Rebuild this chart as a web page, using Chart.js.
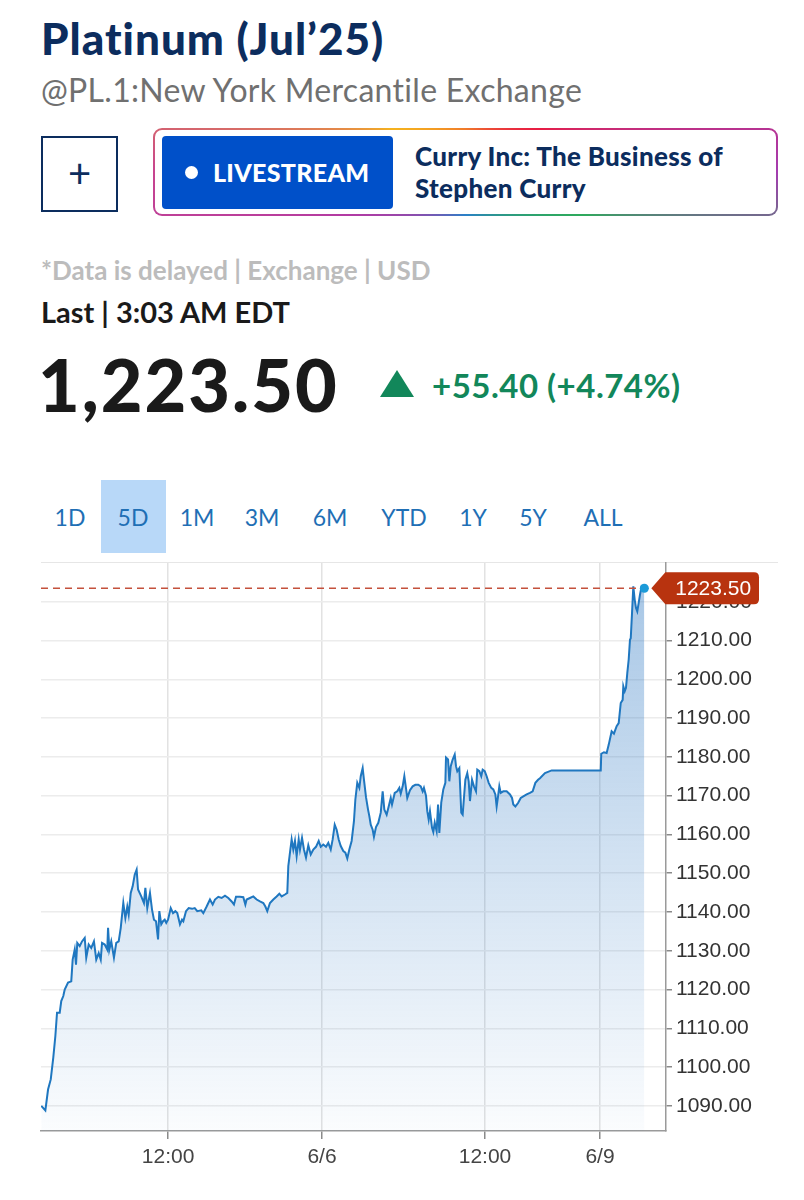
<!DOCTYPE html>
<html>
<head>
<meta charset="utf-8">
<script src="https://cdn.jsdelivr.net/npm/chart.js@4.4.0/dist/chart.umd.min.js"></script>
<style>
  body { margin: 0; width: 804px; height: 1200px; background: #fff; position: relative; overflow: hidden;
         font-family: Lato, "Open Sans", sans-serif; }
  .abs { position: absolute; white-space: nowrap; }
  #title { left: 41px; top: 12px; font-size: 44px; line-height: 52px; font-weight: 900; color: #0c2d5e; letter-spacing: 1px; }
  #sub { left: 41px; top: 70px; font-size: 32px; line-height: 40px; color: #707070; letter-spacing: 0.3px; }
  #plus { left: 41px; top: 136px; width: 73px; height: 72px; border: 2px solid #0c2d5e; color: #0c2d5e;
          font-size: 40px; line-height: 70px; text-align: center; }
  #frame { left: 153px; top: 128px; width: 625px; height: 88px; border-radius: 9px;
           background: conic-gradient(from 0deg, #f07a2a 0deg, #e81c43 60deg, #a43cb0 90deg, #2eaa5c 110deg,
                       #2a80c8 180deg, #b23aa3 250deg, #c7448f 270deg, #f5b21e 300deg, #f07a2a 360deg); }
  #frameIn { left: 2px; top: 2px; right: 2px; bottom: 2px; background: #fff; border-radius: 7px; }
  #live { left: 162px; top: 136px; width: 231px; height: 73px; background: #0050c9; border-radius: 4px; color: #fff;
          font-size: 25px; font-weight: 900; line-height: 73px; }
  #live .dot { position: absolute; left: 23px; top: 30px; width: 13px; height: 13px; border-radius: 50%; background: #fff; }
  #live .txt { position: absolute; left: 51px; top: 0; letter-spacing: 0.3px; }
  #story { left: 415px; top: 140px; font-size: 26px; line-height: 32px; font-weight: 900; color: #0c2d5e; letter-spacing: 0.3px; }
  #delay { left: 41px; top: 254px; font-size: 26px; line-height: 32px; font-weight: 700; color: #bcbcbc; }
  #last { left: 41px; top: 295px; font-size: 29px; line-height: 34px; font-weight: 700; color: #1a1a1a; }
  #price { left: 38px; top: 343px; font-size: 72px; line-height: 82px; font-weight: 900; color: #1a1a1a; letter-spacing: 2px; }
  #tri { left: 380px; top: 370px; width: 0; height: 0; border-left: 17px solid transparent;
         border-right: 17px solid transparent; border-bottom: 27px solid #12875a; }
  #chg { left: 432px; top: 365px; font-size: 33px; line-height: 40px; font-weight: 700; color: #12875a; letter-spacing: 0.5px; }
  #tabsel { left: 101px; top: 480px; width: 65px; height: 73px; background: #b8d8f8; }
  .tab { top: 502px; font-size: 23px; line-height: 30px; color: #1f6fb5; transform: translateX(-50%); }
  #topline { left: 41px; top: 562px; width: 737px; height: 1px; background: #e6e6e6; }
  #wrap { left: 0; top: 540px; width: 804px; height: 640px; }
</style>
</head>
<body>
<div class="abs" id="title">Platinum (Jul’25)</div>
<div class="abs" id="sub">@PL.1:New York Mercantile Exchange</div>
<div class="abs" id="plus">+</div>
<div class="abs" id="frame"><div class="abs" id="frameIn"></div></div>
<div class="abs" id="live"><span class="dot"></span><span class="txt">LIVESTREAM</span></div>
<div class="abs" id="story">Curry Inc: The Business of<br>Stephen Curry</div>
<div class="abs" id="delay">*Data is delayed | Exchange | USD</div>
<div class="abs" id="last">Last | 3:03 AM EDT</div>
<div class="abs" id="price">1,223.50</div>
<div class="abs" id="tri"></div>
<div class="abs" id="chg">+55.40 (+4.74%)</div>
<div class="abs" id="tabsel"></div>
<div class="abs tab" style="left:70px">1D</div>
<div class="abs tab" style="left:133px">5D</div>
<div class="abs tab" style="left:197px">1M</div>
<div class="abs tab" style="left:262px">3M</div>
<div class="abs tab" style="left:330px">6M</div>
<div class="abs tab" style="left:404px">YTD</div>
<div class="abs tab" style="left:473px">1Y</div>
<div class="abs tab" style="left:533px">5Y</div>
<div class="abs tab" style="left:603px">ALL</div>
<div class="abs" id="topline"></div>
<div class="abs" id="wrap"><canvas id="chart" width="804" height="640"></canvas></div>

<script>
// Hours since the start of the 5D window (weekend gap compressed, as on the source chart)
const sessionHours = [
  0.02, 0.34, 0.55, 0.76, 0.96, 1.12, 1.25, 1.46, 1.58, 1.74,
  1.85, 2.11, 2.36, 2.47, 2.63, 2.73, 2.83, 3.02, 3.20, 3.41,
  3.53, 3.72, 3.92, 4.13, 4.31, 4.50, 4.66, 4.76, 4.97, 5.17,
  5.23, 5.33, 5.48, 5.69, 5.87, 6.06, 6.22, 6.42, 6.58, 6.73,
  6.84, 7.00, 7.15, 7.31, 7.46, 7.57, 7.82, 8.03, 8.14, 8.29,
  8.50, 8.66, 8.81, 8.97, 9.13, 9.23, 9.38, 9.52, 9.65, 9.77,
  9.91, 10.12, 10.30, 10.48, 10.63, 10.84, 11.00, 11.10, 11.31, 11.52,
  11.78, 11.99, 12.19, 12.50, 12.66, 12.92, 13.18, 13.39, 13.57, 13.83,
  14.09, 14.35, 14.61, 14.87, 15.05, 15.21, 15.52, 15.78, 15.94, 16.04,
  16.30, 16.56, 16.82, 17.08, 17.34, 17.50, 17.65, 17.86, 18.12, 18.38,
  18.59, 18.77, 19.03, 19.21, 19.29, 19.42, 19.55, 19.68, 19.81, 19.94,
  20.10, 20.20, 20.36, 20.51, 20.67, 20.85, 21.04, 21.24, 21.45, 21.66,
  21.82, 22.02, 22.23, 22.41, 22.60, 22.75, 22.91, 23.06, 23.22, 23.38,
  23.58, 23.74, 23.89, 24.05, 24.23, 24.41, 24.52, 24.67, 24.83, 24.94,
  25.09, 25.19, 25.35, 25.51, 25.61, 25.72, 25.87, 25.97, 26.13, 26.31,
  26.50, 26.65, 26.78, 26.96, 27.12, 27.28, 27.38, 27.59, 27.79, 27.95,
  28.06, 28.21, 28.34, 28.45, 28.57, 28.78, 28.99, 29.20, 29.43, 29.62,
  29.77, 29.87, 30.03, 30.13, 30.24, 30.34, 30.50, 30.60, 30.71, 30.86,
  30.97, 31.07, 31.22, 31.38, 31.54, 31.59, 31.75, 31.85, 31.96, 32.11,
  32.27, 32.37, 32.47, 32.63, 32.78, 32.89, 32.99, 33.10, 33.25, 33.36,
  33.46, 33.62, 33.77, 33.93, 34.03, 34.19, 34.34, 34.45, 34.61, 34.76,
  34.92, 35.12, 35.28, 35.44, 35.54, 35.65, 35.75, 35.86, 36.06, 36.32,
  36.58, 36.74, 36.84, 37.00, 37.21, 37.42, 37.62, 37.88, 38.14, 38.35,
  38.56, 38.77, 38.92, 39.31, 39.83, 43.66, 43.70, 43.91, 44.12, 44.28,
  44.51, 44.69, 44.90, 45.06, 45.22, 45.37, 45.42, 45.53, 45.63, 45.73,
  45.84, 45.94, 46.00, 46.10, 46.20, 46.31, 46.41, 46.51, 46.62, 46.72,
  46.85, 47.06
];

const prices = [
  1090.0, 1088.8, 1094.2, 1096.8, 1102.5, 1108.0, 1114.0, 1114.0, 1117.0, 1118.3,
  1120.0, 1121.8, 1122.1, 1127.7, 1130.3, 1126.4, 1132.0, 1131.2, 1132.4, 1133.3,
  1128.2, 1131.6, 1130.7, 1132.4, 1127.7, 1129.4, 1127.7, 1132.0, 1131.6, 1130.3,
  1135.9, 1130.3, 1132.4, 1128.2, 1132.0, 1132.4, 1135.9, 1142.3, 1138.4, 1141.4,
  1139.3, 1144.9, 1146.6, 1149.6, 1150.9, 1145.8, 1144.0, 1142.3, 1146.2, 1141.0,
  1144.9, 1140.6, 1138.0, 1137.6, 1132.9, 1140.2, 1136.8, 1137.6, 1138.0, 1137.2,
  1138.0, 1141.0, 1139.7, 1140.2, 1139.7, 1136.8, 1138.0, 1137.6, 1140.2, 1141.0,
  1140.8, 1141.0, 1140.2, 1140.4, 1139.7, 1141.4, 1143.2, 1141.9, 1143.2, 1143.9,
  1143.6, 1144.2, 1143.6, 1142.7, 1141.9, 1143.9, 1143.9, 1143.8, 1141.9, 1143.2,
  1143.6, 1144.0, 1143.2, 1142.7, 1142.3, 1141.4, 1140.2, 1142.3, 1143.2, 1144.0,
  1144.7, 1144.0, 1144.5, 1144.9, 1151.8, 1155.3, 1158.7, 1156.1, 1158.3, 1154.4,
  1158.7, 1156.1, 1159.1, 1156.1, 1154.0, 1157.2, 1154.8, 1156.1, 1156.8, 1158.3,
  1156.8, 1157.4, 1156.8, 1157.8, 1156.1, 1158.7, 1162.5, 1161.2, 1158.7, 1157.0,
  1155.7, 1155.3, 1153.8, 1156.1, 1158.3, 1163.4, 1169.0, 1173.3, 1172.0, 1175.0,
  1177.1, 1174.1, 1169.6, 1166.4, 1164.7, 1162.5, 1161.2, 1159.4, 1161.9, 1163.0,
  1165.6, 1171.1, 1166.4, 1165.1, 1167.2, 1169.4, 1167.7, 1170.7, 1171.1, 1172.0,
  1170.5, 1172.4, 1175.0, 1172.4, 1169.4, 1171.4, 1172.4, 1172.8, 1172.8, 1172.4,
  1171.1, 1172.0, 1170.0, 1166.0, 1163.8, 1166.0, 1161.7, 1160.6, 1163.0, 1160.8,
  1167.7, 1160.4, 1168.2, 1171.6, 1173.3, 1179.8, 1179.3, 1173.7, 1177.6, 1179.3,
  1180.6, 1177.6, 1176.3, 1177.1, 1165.6, 1165.1, 1169.4, 1174.1, 1175.8, 1173.7,
  1168.6, 1174.1, 1172.4, 1171.1, 1176.7, 1176.3, 1175.0, 1176.7, 1176.3, 1175.0,
  1173.3, 1172.0, 1171.6, 1170.3, 1167.2, 1169.8, 1172.4, 1170.7, 1171.1, 1171.1,
  1170.3, 1169.4, 1167.7, 1167.2, 1168.1, 1169.4, 1169.8, 1170.3, 1170.7, 1171.1,
  1173.3, 1174.1, 1174.5, 1175.8, 1176.5, 1176.5, 1180.8, 1181.2, 1181.0, 1183.1,
  1186.6, 1186.0, 1187.9, 1188.7, 1193.9, 1194.7, 1198.2, 1196.9, 1197.8, 1201.6,
  1205.1, 1210.2, 1210.6, 1217.1, 1224.0, 1220.5, 1218.4, 1217.5, 1219.7, 1221.8,
  1224.0, 1223.5
];

const xTickPos = [9.91, 21.92, 34.63, 43.60];
const xTickLabels = ['12:00', '6/6', '12:00', '6/9'];
const yTicks = [1090, 1100, 1110, 1120, 1130, 1140, 1150, 1160, 1170, 1180, 1190, 1200, 1210, 1220];
const lastPrice = 1223.50;

const axisFont = { family: '"Liberation Sans", Arial, sans-serif', size: 21 };

// garis putus-putus + label harga terakhir
const lastPricePlugin = {
  id: 'lastPrice',
  afterDraw(chart) {
    const { ctx, chartArea, scales } = chart;
    const meta = chart.getDatasetMeta(0);
    const lastPt = meta.data[meta.data.length - 1];
    const y = scales.y.getPixelForValue(lastPrice);

    ctx.save();
    ctx.strokeStyle = '#c4513c';
    ctx.lineWidth = 1.5;
    ctx.setLineDash([7, 5]);
    ctx.beginPath();
    ctx.moveTo(chartArea.left, y);
    ctx.lineTo(lastPt.x - 5, y);
    ctx.stroke();
    ctx.setLineDash([]);

    // dot
    ctx.fillStyle = '#1b9ad8';
    ctx.beginPath();
    ctx.arc(lastPt.x, lastPt.y, 4.5, 0, Math.PI * 2);
    ctx.fill();

    // flag
    const tip = lastPt.x + 7, bx = tip + 14, right = 759, h = 32, r = 5;
    ctx.fillStyle = '#b8330f';
    ctx.beginPath();
    ctx.moveTo(tip, y);
    ctx.lineTo(bx, y - h / 2);
    ctx.lineTo(right - r, y - h / 2);
    ctx.quadraticCurveTo(right, y - h / 2, right, y - h / 2 + r);
    ctx.lineTo(right, y + h / 2 - r);
    ctx.quadraticCurveTo(right, y + h / 2, right - r, y + h / 2);
    ctx.lineTo(bx, y + h / 2);
    ctx.closePath();
    ctx.fill();

    ctx.fillStyle = '#fff';
    ctx.font = '21px "Liberation Sans", Arial, sans-serif';
    ctx.textAlign = 'center';
    ctx.textBaseline = 'middle';
    ctx.fillText(lastPrice.toFixed(2), (bx + right) / 2 + 1, y + 1);
    ctx.restore();
  }
};

new Chart(document.getElementById('chart'), {
  type: 'line',
  data: {
    datasets: [{
      data: sessionHours.map((h, i) => ({ x: h, y: prices[i] })),
      borderColor: '#1f77c0',
      borderWidth: 2,
      pointRadius: 0,
      tension: 0,
      fill: 'start',
      backgroundColor: (c) => {
        const area = c.chart.chartArea;
        if (!area) return 'rgba(30,110,190,0.2)';
        const g = c.chart.ctx.createLinearGradient(0, area.top, 0, area.bottom);
        g.addColorStop(0, 'rgba(30,110,190,0.40)');
        g.addColorStop(1, 'rgba(30,110,190,0.02)');
        return g;
      }
    }]
  },
  options: {
    responsive: false,
    animation: false,
    layout: { padding: { left: 41, top: 23, right: 0, bottom: 0 } },
    plugins: { legend: { display: false }, tooltip: { enabled: false } },
    scales: {
      x: {
        type: 'linear',
        min: 0,
        max: 48.75,
        afterBuildTicks: (scale) => { scale.ticks = xTickPos.map(v => ({ value: v })); },
        afterFit: (scale) => { scale.height = 49; },
        ticks: {
          autoSkip: false, maxRotation: 0, padding: 6,
          color: '#444', font: axisFont,
          callback: (v, i) => xTickLabels[i]
        },
        grid: { color: '#e2e2e2', tickColor: '#8a8a8a', tickLength: 8, lineWidth: 1.5 },
        border: { color: '#9a9a9a', width: 1.5 }
      },
      y: {
        position: 'right',
        min: 1083.5,
        max: 1230,
        afterBuildTicks: (scale) => { scale.ticks = yTicks.map(v => ({ value: v })); },
        afterFit: (scale) => { scale.width = 138; },
        ticks: {
          padding: 4, color: '#333', font: axisFont,
          callback: (v) => Number(v).toFixed(2)
        },
        grid: { color: '#ececec', tickColor: '#8a8a8a', tickLength: 6, lineWidth: 1.5 },
        border: { color: '#9a9a9a', width: 1.5 }
      }
    }
  },
  plugins: [lastPricePlugin]
});
</script>
</body>
</html>
